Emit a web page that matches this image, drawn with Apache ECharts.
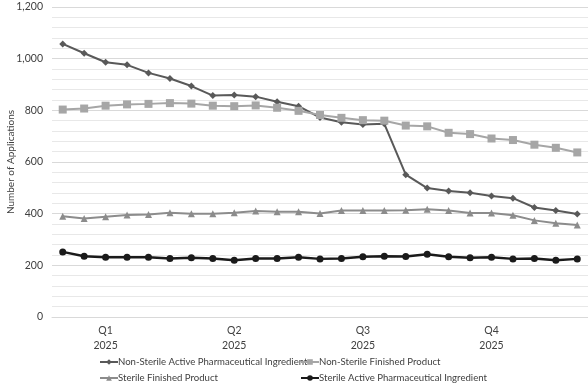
<!DOCTYPE html>
<html>
<head>
<meta charset="utf-8">
<script src="https://cdn.jsdelivr.net/npm/echarts@6/dist/echarts.min.js"></script>
<style>
  html, body { margin: 0; padding: 0; background: #fff; }
  #chart { width: 588px; height: 386px; }
</style>
</head>
<body>
<div id="chart"></div>
<script>
// 25 points across 2025, quarter labels under points 3, 9, 15, 21
var categories = ['', '', 'Q1\n2025', '', '', '', '', '', 'Q2\n2025', '', '', '', '', '',
    'Q3\n2025', '', '', '', '', '', 'Q4\n2025', '', '', '', ''];

var nonSterileApi = [1057, 1021, 986, 976, 945, 923, 894, 857, 859, 853, 833, 816,
    772, 754, 745, 748, 551, 499, 488, 481, 468, 460, 424, 412, 399];
var nonSterileFp = [803, 807, 818, 823, 825, 828, 826, 818, 816, 819, 810, 798,
    782, 771, 762, 760, 741, 738, 713, 708, 691, 685, 667, 655, 637];
var sterileFp = [390, 381, 388, 395, 397, 404, 400, 400, 404, 410, 407, 407,
    401, 412, 412, 412, 413, 417, 412, 403, 403, 394, 374, 363, 356];
var sterileApi = [252, 235, 231, 231, 231, 226, 229, 226, 220, 226, 226, 231,
    225, 226, 233, 235, 234, 243, 233, 229, 231, 225, 226, 220, 225];

var font = 'Lato';

function line(name, data, color, symbol, size, width) {
    return {
        name: name,
        type: 'line',
        data: data,
        symbol: symbol,
        symbolSize: size,
        showSymbol: true,
        itemStyle: { color: color },
        lineStyle: { color: color, width: width },
        emphasis: { disabled: true },
        animation: false
    };
}

// one legend per entry, laid out as a 2x2 grid
function legendAt(name, left, top) {
    return {
        left: left,
        top: top,
        itemWidth: 18,
        itemHeight: 7,
        padding: 0,
        textStyle: { fontFamily: font, fontSize: 9.6, color: '#404040', padding: [0, 0, 0, -5] },
        selectedMode: false,
        data: [name]
    };
}

var myChart = echarts.init(document.getElementById('chart'));

option = {
    backgroundColor: '#fff',
    grid: { left: 52, right: 0, top: 7, bottom: 69, containLabel: false, outerBoundsMode: 'none' },
    legend: [
        legendAt('Non-Sterile Active Pharmaceutical Ingredient', 99, 357),
        legendAt('Non-Sterile Finished Product', 300, 357),
        legendAt('Sterile Finished Product', 99, 373),
        legendAt('Sterile Active Pharmaceutical Ingredient', 300, 373)
    ],
    xAxis: {
        type: 'category',
        data: categories,
        boundaryGap: true,
        axisLine: { show: true, lineStyle: { color: '#d9d9d9', width: 1 } },
        axisTick: { show: false },
        axisLabel: {
            interval: 0,
            fontFamily: font,
            fontSize: 10.5,
            color: '#404040',
            lineHeight: 15,
            margin: 6
        }
    },
    yAxis: {
        type: 'value',
        min: 0,
        max: 1200,
        interval: 200,
        name: 'Number of Applications',
        nameLocation: 'middle',
        nameGap: 36,
        nameMoveOverlap: false,
        nameTextStyle: { fontFamily: font, fontSize: 10, color: '#404040' },
        axisLine: { show: false },
        axisTick: { show: false },
        axisLabel: {
            fontFamily: font,
            fontSize: 10.5,
            color: '#404040',
            margin: 9,
            formatter: function (v) { return v.toLocaleString('en-US'); }
        },
        splitLine: { lineStyle: { color: '#d9d9d9', width: 1 } },
        minorTick: { show: false, splitNumber: 5 },
        minorSplitLine: { show: true, lineStyle: { color: '#e8e8e8', width: 1 } }
    },
    series: [
        line('Non-Sterile Active Pharmaceutical Ingredient', nonSterileApi, '#595959', 'diamond', 7, 2),
        line('Non-Sterile Finished Product', nonSterileFp, '#a6a6a6', 'rect', 8, 2),
        line('Sterile Finished Product', sterileFp, '#8c8c8c', 'triangle', 7, 2),
        line('Sterile Active Pharmaceutical Ingredient', sterileApi, '#1a1a1a', 'circle', 7, 2.5)
    ]
};

myChart.setOption(option);
</script>
</body>
</html>
